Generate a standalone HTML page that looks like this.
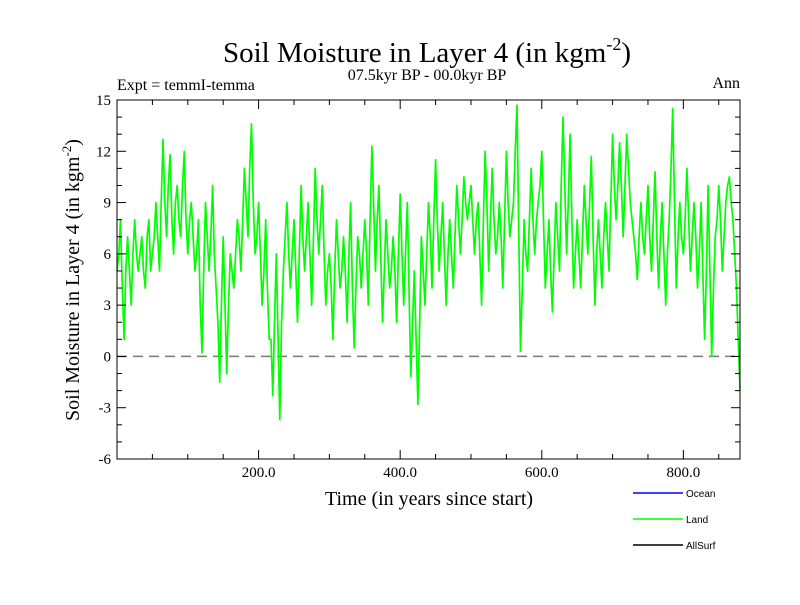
<!DOCTYPE html>
<html><head><meta charset="utf-8"><style>
body{margin:0;background:#fff}
svg text{font-family:"Liberation Serif",serif;fill:#000}
</style></head><body>
<svg id="c" width="800" height="600" xmlns="http://www.w3.org/2000/svg">
<text x="427" y="62" font-size="29" text-anchor="middle">Soil Moisture in Layer 4 (in kgm<tspan font-size="18" dy="-12">-2</tspan><tspan dy="12">)</tspan></text>
<text x="427" y="80" font-size="16" text-anchor="middle">07.5kyr BP - 00.0kyr BP</text>
<text x="117" y="90" font-size="16">Expt = temmI-temma</text>
<text x="740" y="88" font-size="16" text-anchor="end">Ann</text>
<text transform="translate(79,280) rotate(-90)" font-size="20" text-anchor="middle">Soil Moisture in Layer 4 (in kgm<tspan font-size="13" dy="-8">-2</tspan><tspan dy="8">)</tspan></text>
<text x="429" y="505" font-size="20" text-anchor="middle">Time (in years since start)</text>
<g id="ax"></g>
<g id="legend">
<line x1="633" y1="493" x2="683" y2="493" stroke="#0000ff" stroke-width="1.5"/>
<text x="686" y="497" font-size="10" style="font-family:'Liberation Sans',sans-serif">Ocean</text>
<line x1="633" y1="519" x2="683" y2="519" stroke="#00ff00" stroke-width="1.5"/>
<text x="686" y="523" font-size="10" style="font-family:'Liberation Sans',sans-serif">Land</text>
<line x1="633" y1="545" x2="683" y2="545" stroke="#000" stroke-width="1.5"/>
<text x="686" y="549" font-size="10" style="font-family:'Liberation Sans',sans-serif">AllSurf</text>
</g>
</svg>
<script>
const yTicks=[-6,-3,0,3,6,9,12,15];
const xTicks=[200,400,600,800];
const xTickLabels=["200.0","400.0","600.0","800.0"];
const yearStep=5;
// values at years 0,5,10,...
const landValues=[
5,8,1,7,3,8,5,7,4,8,
6,9,5,12.7,7,11.8,6,10,7,12,
6,9,5,8,0.2,9,5,10,4,-1.5,
7,-1,6,4,8,5,11,7,13.6,6,
9,3,8,1,-2.3,6,-3.7,5,9,4,
8,2,10,5,9,3,11,6,10,3,
6,1,8,4,7,2,9,0.5,7,4,
8,3,12.3,5,10,2,8,4,7,2,
9.5,3,9,-1.2,5,-2.8,7,3,9,4,
11.5,5,9,3,8,4,10,6,10.5,8,
10,6,9,3,12,5,11,6,9,4,
12,7,9,14.7,0.3,8,5,11,6,9,
12,4,8,2.6,9,5,14,6,13,4,
8,4,10,6,11.7,3,8,4,9,5,
13,8,12.5,7,13,9,7,4.5,9,6,
10,5,10.8,4,9,3,8,14.5,4,9,
6,11,5,9,4,9,1,10,0,7,
10,5,9,10.5,8,4,-2];
// values at years 2.5,7.5,12.5,...
const landMid=[
6,4,5,5,6,6,6,5,7,5,
7,7,9,9,10,8,9,8,10,8,
8,7,6,3,5,7,7,6,2,3,
3,3,5,6,7,8,9,11,9,7,
6,5,4,1,2,1,2,7,6,6,
5,6,7,7,6,7,8,8,6,5,
4,5,6,5,5,6,4,4,6,6,
6,8,9,8,6,5,6,5,5,6,
6,6,4,2,1,2,5,6,7,8,
8,7,6,6,6,7,8,8,9,9,
8,8,6,8,9,8,8,7,7,8,
9,8,12,7,4,6,8,8,8,10,
8,6,5,6,7,10,10,9,8,6,
6,7,8,9,7,6,6,7,7,9,
10,10,10,10,11,8,6,7,7,8,
7,8,7,7,6,6,11,9,7,7,
8,8,7,7,6,5,5,5,4,8,
8,7,10,9,6,1];
const L=117,R=740,T=100,B=459,X0=0,X1=880,Y0=-6,Y1=15;
const sx=v=>L+(v-X0)/(X1-X0)*(R-L);
const sy=v=>B-(v-Y0)/(Y1-Y0)*(B-T);
const NS="http://www.w3.org/2000/svg";
const g=document.getElementById('ax');
function mk(t,a,p){const e=document.createElementNS(NS,t);for(const k in a)e.setAttribute(k,a[k]);(p||g).appendChild(e);return e;}
const z=mk('line',{x1:L,x2:R,y1:sy(0),y2:sy(0),stroke:'#777','stroke-width':1.5,'stroke-dasharray':'10,6'});


const pts=[];
landValues.forEach((v,i)=>{pts.push([i*yearStep,v]);if(i<landMid.length)pts.push([i*yearStep+yearStep/2,landMid[i]]);});
let d='';pts.forEach((q,i)=>{d+=(i?'L':'M')+sx(q[0]).toFixed(1)+','+sy(q[1]).toFixed(1);});
const p=mk('path',{d:d,fill:'none',stroke:'#00ff00','stroke-width':1.7,'stroke-linejoin':'round'});


const f=mk('rect',{x:L,y:T,width:R-L,height:B-T,fill:'none',stroke:'#000','stroke-width':1});


for(let v=Y0;v<=Y1;v++){const y=sy(v);const len=(v%3===0)?9:5;
mk('line',{x1:L,x2:L+len,y1:y,y2:y,stroke:'#000'});mk('line',{x1:R,x2:R-len,y1:y,y2:y,stroke:'#000'});}
yTicks.forEach(v=>{const t=mk('text',{x:L-6,y:sy(v)+5,'font-size':15,'text-anchor':'end'});t.textContent=v;

});
for(let v=50;v<X1;v+=50){const x=sx(v);const len=(v%200===0)?9:5;
mk('line',{x1:x,x2:x,y1:B,y2:B-len,stroke:'#000'});mk('line',{x1:x,x2:x,y1:T,y2:T+len,stroke:'#000'});}
xTicks.forEach((v,i)=>{const t=mk('text',{x:sx(v),y:B+18,'font-size':15,'text-anchor':'middle'});t.textContent=xTickLabels[i];

});
</script>
</body></html>
